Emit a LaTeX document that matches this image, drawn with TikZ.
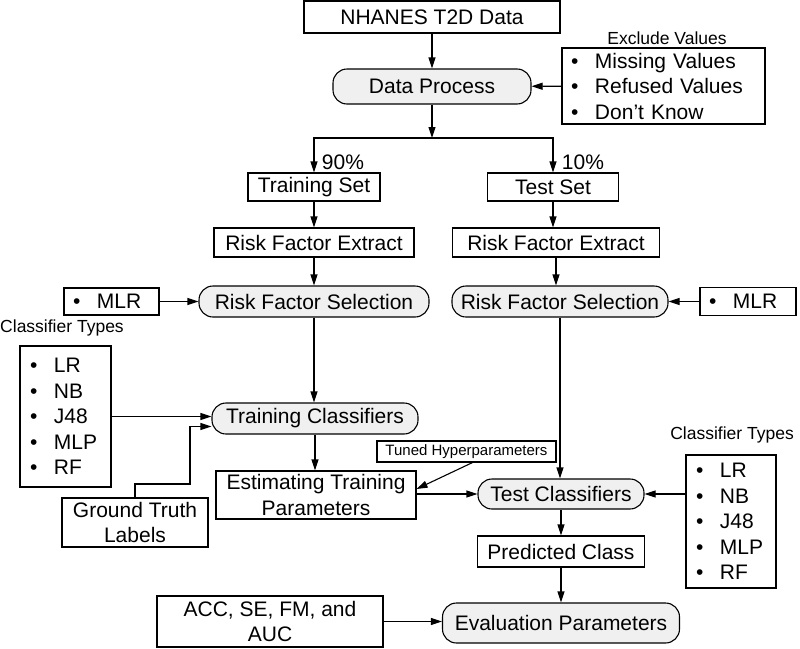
\documentclass[tikz,border=0pt]{standalone}
\usepackage{fontspec}
\setmainfont{Liberation Sans}
\usetikzlibrary{arrows.meta}
\newcommand{\bul}[1]{\makebox[24pt][l]{\textbullet}#1}

\begin{document}
\begin{tikzpicture}[x=1pt, y=-1pt,
		every node/.style={inner sep=0pt, font=\fontsize{21}{25.5}\selectfont},
		plain/.style={draw, line width=1.1pt, fill=white, align=center},
		proc/.style={draw, line width=1.1pt, rounded corners=14pt, fill=black!6},
		list/.style={draw, line width=1.1pt, align=left, inner xsep=9pt, fill=white},
		labtext/.style={font=\fontsize{17.5}{20}\selectfont},
		arr/.style={-{Triangle[length=11pt,width=7pt]}, line width=1.1pt}]
				\useasboundingbox (0,0) rectangle (800,648);
				\node[plain, minimum width=256pt, minimum height=32pt] (data) at (432,17) {NHANES T2D Data};
				\node[proc, minimum width=198pt, minimum height=35pt] (dproc) at (432,86.5) {Data Process};
				\node[labtext] (exlab) at (667,38) {Exclude Values};
				\node[list, text width=185pt, minimum height=76pt] (excl) at (663.5,86) {\bul{Missing Values}\\\bul{Refused Values}\\\bul{Don’t Know}};
				\coordinate (split) at (432,138);
				\node (p90) at (343,162) {90\%};
				\node (p10) at (583,162) {10\%};
				\node[plain, minimum width=132pt, minimum height=28pt] (trainset) at (314,187) {Training Set};
				\node[plain, minimum width=131pt, minimum height=28pt] (testset) at (553,187) {Test Set};
				\node[plain, minimum width=200pt, minimum height=29pt] (rfe1) at (314,242.5) {Risk Factor Extract};
				\node[plain, minimum width=207pt, minimum height=29pt] (rfe2) at (556,242.5) {Risk Factor Extract};
				\node[proc, minimum width=230pt, minimum height=31pt] (rfs1) at (314,301.5) {Risk Factor Selection};
				\node[proc, minimum width=216pt, minimum height=31pt] (rfs2) at (560,301.5) {Risk Factor Selection};
				\node[list, text width=77pt, minimum height=27pt, inner xsep=9pt] (mlr1) at (111.5,301.5) {\bul{MLR}};
				\node[list, text width=78pt, minimum height=28pt] (mlr2) at (748,301.5) {\bul{MLR}};
				\node[labtext] (cl1lab) at (62,328) {Classifier Types};
				\node[list, text width=71pt, minimum height=141pt, inner xsep=10pt] (cls1) at (65.5,416.5) {\bul{LR}\\\bul{NB}\\\bul{J48}\\\bul{MLP}\\\bul{RF}};
				\node[proc, minimum width=206pt, minimum height=31pt] (traincls) at (315,418.5) {Training Classifiers};
				\node[plain, minimum width=146pt, minimum height=49pt] (gtl) at (135,522.5) {Ground Truth\\Labels};
				\node[plain, minimum width=200pt, minimum height=48pt] (estim) at (316,495) {Estimating Training\\Parameters};
				\node[plain, minimum width=179pt, minimum height=21pt, font=\fontsize{15}{18}\selectfont] (tuned) at (466.5,451.5) {Tuned Hyperparameters};
				\node[proc, minimum width=166pt, minimum height=30pt] (testcls) at (561,494) {Test Classifiers};
				\node[labtext] (cl2lab) at (732,435) {Classifier Types};
				\node[list, text width=70pt, minimum height=133pt, inner xsep=10pt] (cls2) at (731,521.5) {\bul{LR}\\\bul{NB}\\\bul{J48}\\\bul{MLP}\\\bul{RF}};
				\node[plain, minimum width=167pt, minimum height=31pt] (pred) at (561,551.5) {Predicted Class};
				\node[proc, minimum width=237pt, minimum height=40pt] (eval) at (561,623) {Evaluation Parameters};
				\node[plain, minimum width=226pt, minimum height=51pt] (acc) at (270,621.5) {ACC, SE, FM, and\\AUC};
				\coordinate (gtbend) at (190,484);
				\draw[arr] (data) -- (dproc);
				\draw[arr] (excl) -- (dproc);
				\draw[arr] (dproc) -- (split);
				\draw[arr] (split) -| (trainset);
				\draw[arr] (split) -| (testset);
				\draw[arr] (trainset) -- (rfe1);
				\draw[arr] (rfe1) -- (rfs1);
				\draw[arr] (testset.south) -- (testset.south |- rfe2.north);
				\draw[arr] (rfe2) -- (rfe2 |- rfs2.north);
				\draw[arr] (mlr1) -- (rfs1);
				\draw[arr] (mlr2) -- (rfs2);
				\draw[arr] (rfs1) -- (rfs1 |- traincls.north);
				\draw[arr] (cls1) -- (cls1 -| traincls.west);
				\draw[arr] (gtl.north) |- (gtbend) |- ([yshift=-8pt]traincls.west);
				\draw[arr] (traincls) -- (traincls |- estim.north);
				\draw[arr] ([xshift=6pt]tuned.south) -- ([yshift=6pt]estim.east);
				\draw[arr] (estim.east |- testcls) -- (testcls);
				\draw[arr] (rfs2.south) -- (rfs2.south |- testcls.north);
				\draw[arr] (cls2.west |- testcls) -- (testcls);
				\draw[arr] (testcls) -- (pred);
				\draw[arr] (pred) -- (eval);
				\draw[arr] (acc) -- (acc -| eval.west);
			\end{tikzpicture}
\end{document}
